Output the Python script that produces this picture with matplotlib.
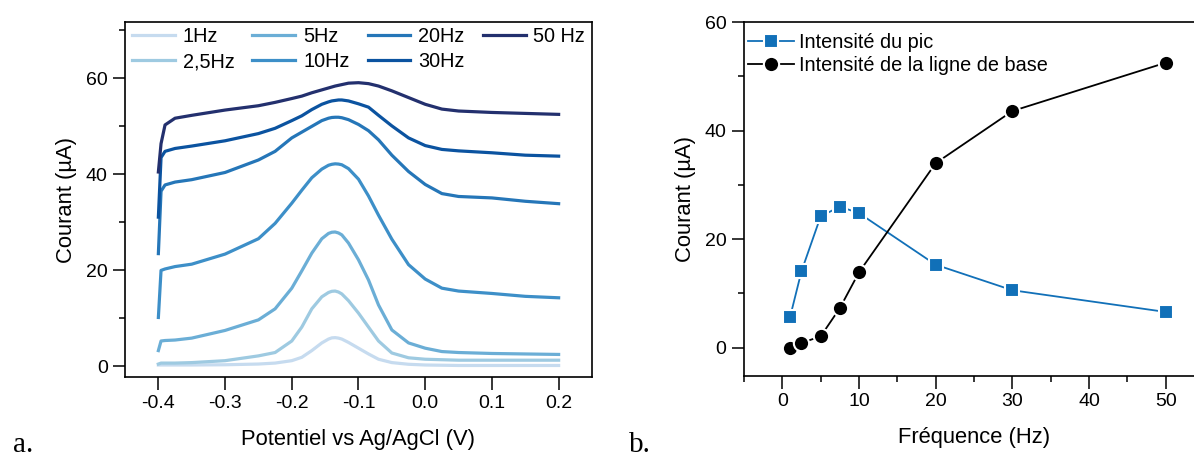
import matplotlib
matplotlib.use("Agg")
import matplotlib.pyplot as plt
from matplotlib.ticker import MultipleLocator

plt.rcParams['font.family'] = ['Liberation Sans', 'DejaVu Sans']

# --- panel a: voltammograms at several frequencies ---
potentiel = [-0.400, -0.396, -0.390, -0.375, -0.350, -0.300, -0.250, -0.225, -0.200,
             -0.185, -0.170, -0.155, -0.145, -0.140, -0.135, -0.130, -0.125, -0.115,
             -0.100, -0.085, -0.070, -0.050, -0.025, 0.000, 0.025, 0.050, 0.100,
             0.150, 0.200]

i_1hz = [0.3, 0.3, 0.3, 0.3, 0.3, 0.35, 0.5, 0.7, 1.2, 1.9, 3.3, 4.9, 5.7, 5.95, 6.0,
         5.9, 5.7, 5.0, 3.8, 2.6, 1.5, 0.8, 0.45, 0.3, 0.25, 0.2, 0.2, 0.2, 0.2]
i_2_5hz = [0.5, 0.7, 0.7, 0.7, 0.8, 1.2, 2.2, 2.9, 5.3, 8.2, 12.0, 14.5, 15.4, 15.65, 15.7,
           15.5, 15.1, 13.7, 11.1, 8.2, 5.3, 2.8, 1.8, 1.5, 1.4, 1.3, 1.3, 1.3, 1.3]
i_5hz = [3.3, 5.3, 5.4, 5.5, 5.9, 7.5, 9.7, 12.0, 16.3, 19.9, 23.6, 26.6, 27.7, 27.95, 28.0,
         27.8, 27.4, 25.7, 22.2, 18.0, 12.8, 7.6, 4.9, 3.8, 3.1, 2.9, 2.7, 2.6, 2.5]
i_10hz = [10.2, 20.0, 20.3, 20.8, 21.3, 23.4, 26.6, 29.8, 34.0, 36.7, 39.3, 41.1, 41.9, 42.1,
          42.2, 42.15, 42.0, 41.2, 39.0, 35.5, 31.5, 26.5, 21.2, 18.2, 16.3, 15.7, 15.2,
          14.6, 14.3]
i_20hz = [23.5, 36.5, 37.8, 38.4, 38.9, 40.4, 43.0, 44.8, 47.6, 48.8, 50.0, 51.2, 51.7, 51.85,
          51.9, 51.9, 51.8, 51.4, 50.4, 49.1, 47.2, 44.0, 40.6, 37.9, 36.0, 35.4, 35.1,
          34.4, 33.9]
i_30hz = [31.1, 43.5, 44.8, 45.4, 45.9, 47.0, 48.5, 49.6, 51.2, 52.2, 53.5, 54.6, 55.1, 55.3,
          55.4, 55.5, 55.5, 55.3, 54.7, 54.0, 52.3, 50.1, 47.6, 46.0, 45.2, 44.9, 44.5,
          44.0, 43.8]
i_50hz = [40.5, 46.4, 50.3, 51.7, 52.3, 53.4, 54.3, 55.0, 55.8, 56.3, 57.0, 57.6, 58.0, 58.2,
          58.4, 58.55, 58.7, 59.0, 59.1, 58.9, 58.4, 57.4, 56.0, 54.6, 53.6, 53.2, 52.9,
          52.7, 52.5]

labels_a = ["1Hz", "2,5Hz", "5Hz", "10Hz", "20Hz", "30Hz", "50 Hz"]
courbes = [i_1hz, i_2_5hz, i_5hz, i_10hz, i_20hz, i_30hz, i_50hz]
couleurs = ["#c6dbef", "#9ecae1", "#6baed6", "#3d8fc8", "#2576b8", "#0b53a0", "#23306e"]

# --- panel b: intensities vs frequency ---
frequence = [1, 2.5, 5, 7.5, 10, 20, 30, 50]
pic = [5.6, 14.1, 24.2, 26.0, 24.8, 15.3, 10.6, 6.6]
ligne_base = [0.0, 0.9, 2.1, 7.3, 13.9, 34.0, 43.6, 52.5]

FS_TICK = 14
FS_LAB = 15.8
FS_LEG = 14.3

fig = plt.figure(figsize=(11.94, 4.57), dpi=100)
ax1 = fig.add_axes([0.1047, 0.174, 0.3911, 0.7785])
ax2 = fig.add_axes([0.6231, 0.1772, 0.3853, 0.7746])

for y, lab, c in zip(courbes, labels_a, couleurs):
    ax1.plot(potentiel, y, color=c, lw=2.3, label=lab, solid_joinstyle='round')

ax1.set_xlim(-0.45, 0.25)
ax1.set_ylim(-2.3, 71.8)
ax1.yaxis.set_major_locator(MultipleLocator(20))
ax1.yaxis.set_minor_locator(MultipleLocator(10))
ax1.set_xticks([-0.4, -0.3, -0.2, -0.1, 0.0, 0.1, 0.2])
ax1.set_xticklabels(["-0.4", "-0.3", "-0.2", "-0.1", "0.0", "0.1", "0.2"])
ax1.set_xlabel("Potentiel vs Ag/AgCl (V)", fontsize=FS_LAB, labelpad=12)
ax1.set_ylabel("Courant (µA)", fontsize=FS_LAB, labelpad=6)
ax1.legend(ncol=4, loc='upper left', bbox_to_anchor=(0.0, 1.005), frameon=False,
           fontsize=FS_LEG, handlelength=2.16, handletextpad=0.4, columnspacing=0.9,
           labelspacing=0.33, borderaxespad=0.2, borderpad=0.15)

ax2.plot(frequence, pic, color="#1170b8", lw=1.3, marker='s', ms=9.5,
         mfc="#1170b8", mec='white', mew=1.5, label="Intensité du pic")
ax2.plot(frequence, ligne_base, color="black", lw=1.3, marker='o', ms=11,
         mfc="black", mec='white', mew=1.5, label="Intensité de la ligne de base")
ax2.set_xlim(-5, 55)
ax2.set_ylim(-5.2, 60)
ax2.xaxis.set_major_locator(MultipleLocator(10))
ax2.xaxis.set_minor_locator(MultipleLocator(5))
ax2.yaxis.set_major_locator(MultipleLocator(20))
ax2.yaxis.set_minor_locator(MultipleLocator(10))
ax2.set_xlabel("Fréquence (Hz)", fontsize=FS_LAB, labelpad=12)
ax2.set_ylabel("Courant (µA)", fontsize=FS_LAB, labelpad=6)
ax2.legend(loc='upper left', bbox_to_anchor=(-0.016, 1.0), frameon=False,
           fontsize=FS_LEG, handlelength=2.36, handletextpad=0.25, labelspacing=0.2,
           borderaxespad=0.45, borderpad=0.1)

for ax in (ax1, ax2):
    ax.tick_params(which='major', direction='out', length=9, width=1.1,
                   labelsize=FS_TICK, top=False, right=False)
    ax.tick_params(which='minor', direction='out', length=4.5, width=1.1,
                   top=False, right=False)
    for s in ax.spines.values():
        s.set_linewidth(1.2)

fig.text(0.011, 0.012, "a.", family=['Liberation Serif'], fontsize=21)
fig.text(0.527, 0.012, "b.", family=['Liberation Serif'], fontsize=21)

fig.savefig("out.png", dpi=100)
